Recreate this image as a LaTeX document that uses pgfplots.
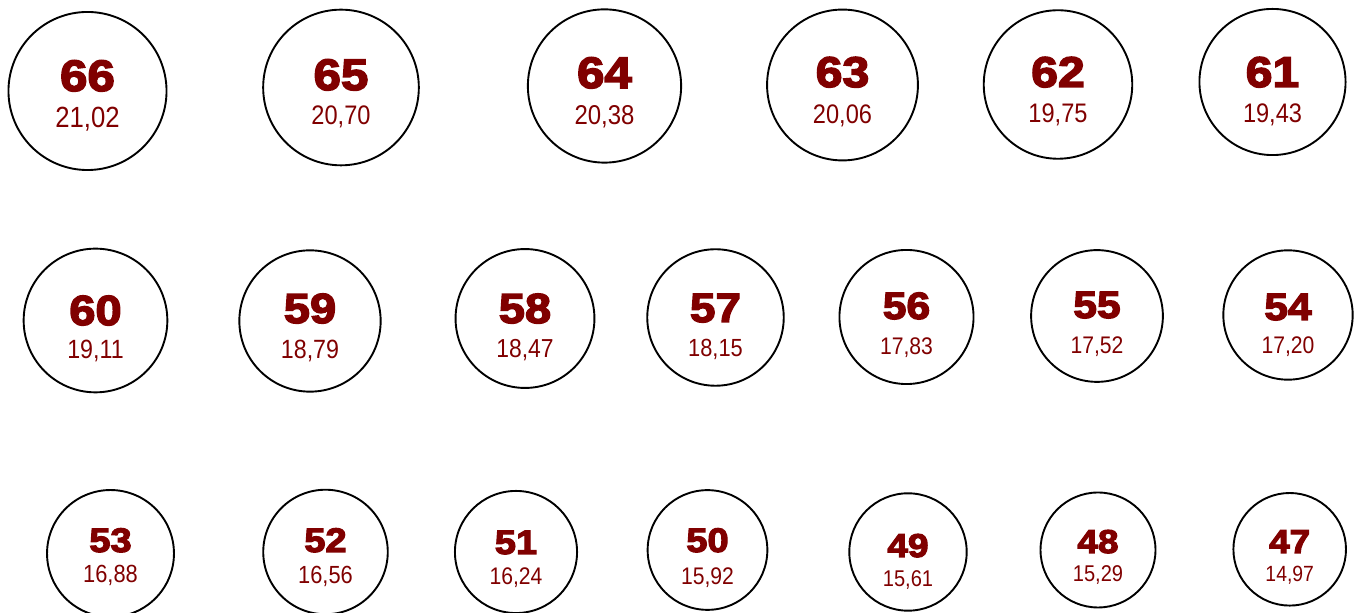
\documentclass[border=0pt]{standalone}
\usepackage{pgfplots}
\pgfplotsset{compat=1.18}
\usepackage{pgfplotstable}
\usepackage{fontspec}
\setmainfont{Liberation Sans}
\newfontfamily\bigfont{Liberation Sans Bold}[FakeBold=3.5, FakeStretch=1.12]
\newfontfamily\smallfont{Liberation Sans}[FakeStretch=0.88]
\definecolor{ringred}{HTML}{800000}

% x, y in pixels of the sheet (y downwards); d = inner diameter in mm
\pgfplotstableread{
x      y      d      size  mm     yb    ys    bf    sf
87.5   91     21.02  66    21,02  91    128   22    14.6
341    87.5   20.70  65    20,70  90    125   22    13.4
604.5  86     20.38  64    20,38  88    125   22    13.6
842.5  85     20.06  63    20,06  87    124   21.5  13.4
1058   84.5   19.75  62    19,75  87    123   21.5  13.4
1272.5 82     19.43  61    19,43  87    123   21.5  13.4
95.5   320.5  19.11  60    19,11  325   359   21    13.2
310    321    18.79  59    18,79  323   359   21    13.2
525    318.5  18.47  58    18,47  323   358   21    13.0
715.5  317.5  18.15  57    18,15  322   357   20.5  12.4
906.5  317    17.83  56    17,83  319   354.5 19    12.0
1097   316    17.52  55    17,52  318   354   19    12.0
1288   315    17.20  54    17,20  320   354   19    12.0
110.5  553.5  16.88  53    16,88  552   583   17    12.4
325.5  552    16.56  52    16,56  552   584   17    12.4
516    552    16.24  51    16,24  554   585   17    12.0
707.5  550    15.92  50    15,92  552   585   17    12.0
908    552    15.61  49    15,61  557   587   16.5  11.4
1098   550    15.29  48    15,29  553   582   16.5  11.4
1289.7 549.3  14.97  47    14,97  553   582   16.5  11.0
}\rings

\begin{document}
\begin{tikzpicture}
\begin{axis}[
    hide axis,
    scale only axis,
    width=678pt, height=306.5pt,
    xmin=0, xmax=1356, ymin=0, ymax=613,
    y dir=reverse,
    clip=false,
  ]
  % the rings, drawn at their own size
  \addplot[scatter, only marks, mark=o, draw=black, line width=0.95pt,
    point meta=\thisrow{d},
    scatter/use mapped color={draw=black, fill=none},
    visualization depends on={1.88*\thisrow{d} \as \rad},
    scatter/@pre marker code/.append style={/tikz/mark size=\rad},
  ] table[x=x, y=y] {\rings};

  % ring size
  \addplot[only marks, mark=none, draw=none,
    point meta=explicit symbolic,
    visualization depends on={\thisrow{bf} \as \bsz},
    nodes near coords,
    nodes near coords style={anchor=base, inner sep=0pt, text=ringred,
      font=\bigfont\fontsize{\bsz}{\bsz}\selectfont},
  ] table[x=x, y=yb, meta=size] {\rings};

  % diameter in mm
  \addplot[only marks, mark=none, draw=none,
    point meta=explicit symbolic,
    visualization depends on={\thisrow{sf} \as \ssz},
    nodes near coords,
    nodes near coords style={anchor=base, inner sep=0pt, text=ringred,
      font=\smallfont\fontsize{\ssz}{\ssz}\selectfont},
  ] table[x=x, y=ys, meta=mm] {\rings};
\end{axis}
\pgfresetboundingbox
\path (current axis.south west) rectangle (current axis.north east);
\end{tikzpicture}
\end{document}
